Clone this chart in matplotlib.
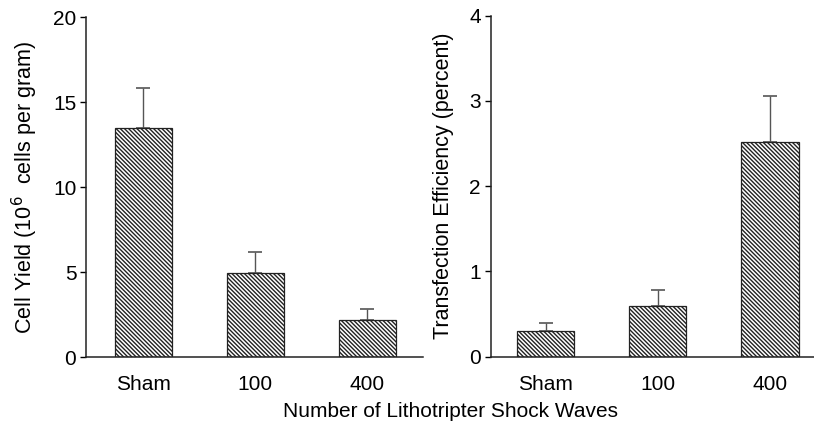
import matplotlib.pyplot as plt
import numpy as np

plt.rcParams['font.family'] = ['Liberation Sans', 'DejaVu Sans']
plt.rcParams['hatch.linewidth'] = 1.0

groups = ['Sham', '100', '400']
cell_yield = [13.5, 4.95, 2.15]
cell_yield_err = [2.3, 1.2, 0.65]
transfection = [0.3, 0.6, 2.52]
transfection_err = [0.1, 0.18, 0.54]

fig = plt.figure(figsize=(8.14, 4.33), dpi=100)
ax1 = fig.add_axes([0.1057, 0.1755, 0.414, 0.785])
ax2 = fig.add_axes([0.6028, 0.1763, 0.397, 0.7875])

x = np.arange(len(groups))


def draw_panel(ax, vals, errs, ymax, ylabel, xlim):
    ax.bar(x, vals, width=0.51, color='white', edgecolor='#222222',
           hatch='\\' * 8, linewidth=0.9, zorder=2)
    ax.errorbar(x, vals, yerr=[np.zeros(len(vals)), errs], fmt='none',
                ecolor='#555555', elinewidth=1.0, capsize=5, capthick=1.2, zorder=1)
    ax.set_ylim(0, ymax)
    ax.set_xlim(*xlim)
    ax.set_xticks(x)
    ax.set_xticklabels(groups)
    ax.set_yticks(np.linspace(0, ymax, 5))
    ax.tick_params(axis='x', length=0, pad=13, labelsize=15)
    ax.tick_params(axis='y', length=4, width=1, labelsize=15, pad=3)
    for s in ['top', 'right']:
        ax.spines[s].set_visible(False)
    for s in ['left', 'bottom']:
        ax.spines[s].set_linewidth(1.1)
        ax.spines[s].set_color('#222222')
    ax.set_ylabel(ylabel, fontsize=15.5)


draw_panel(ax1, cell_yield, cell_yield_err, 20,
           'Cell Yield (10$^{6}$  cells per gram)', (-0.51, 2.5))
draw_panel(ax2, transfection, transfection_err, 4,
           'Transfection Efficiency (percent)', (-0.49, 2.39))
ax1.yaxis.set_label_coords(-0.137, 0.5)
ax2.yaxis.set_label_coords(-0.114, 0.5)

fig.text(0.553, 0.05, 'Number of Lithotripter Shock Waves', ha='center',
         va='center', fontsize=15)

fig.savefig('out.png', dpi=100)
